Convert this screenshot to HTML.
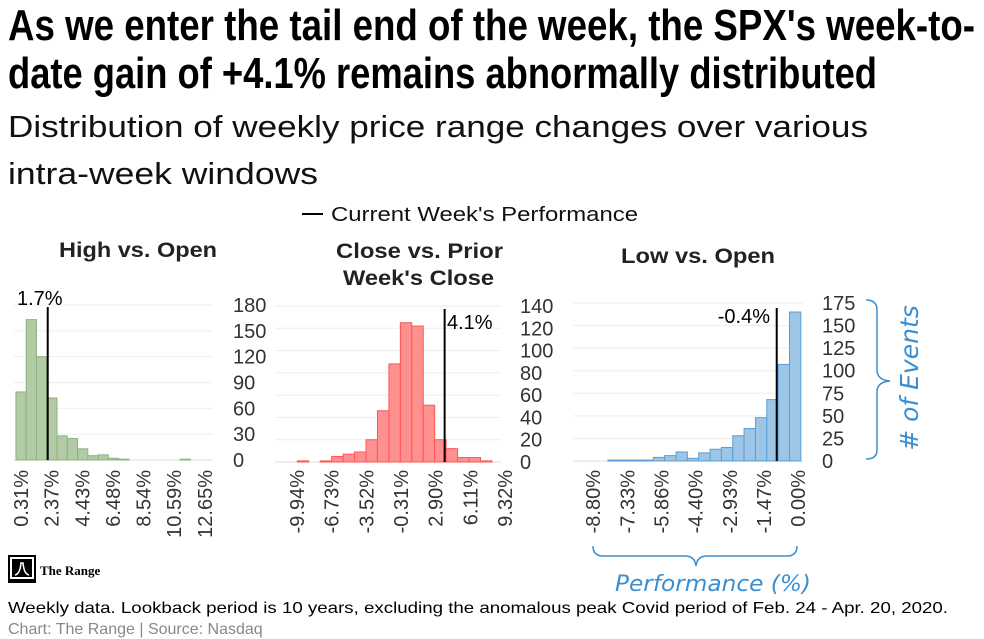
<!DOCTYPE html>
<html><head><meta charset="utf-8"><style>
html,body{margin:0;padding:0;background:#fff;}
svg{display:block;font-family:"Liberation Sans",sans-serif;}
</style></head><body>
<svg id="chart" width="984" height="639" viewBox="0 0 984 639">
<text x="8" y="40" font-size="44" font-weight="bold" textLength="967" lengthAdjust="spacingAndGlyphs">As we enter the tail end of the week, the SPX's week-to-</text>
<text x="8" y="88" font-size="44" font-weight="bold" textLength="869" lengthAdjust="spacingAndGlyphs">date gain of +4.1% remains abnormally distributed</text>
<text x="8" y="137" font-size="31" fill="#111" textLength="860" lengthAdjust="spacingAndGlyphs">Distribution of weekly price range changes over various</text>
<text x="8" y="184" font-size="31" fill="#111" textLength="310" lengthAdjust="spacingAndGlyphs">intra-week windows</text>
<g>
<line x1="302" y1="214" x2="323" y2="214" stroke="#000" stroke-width="2"/>
<text x="331" y="221" font-size="20" fill="#111" textLength="307" lengthAdjust="spacingAndGlyphs">Current Week's Performance</text>
</g>
<text x="59" y="257" font-size="21" font-weight="bold" fill="#222" textLength="158" lengthAdjust="spacingAndGlyphs">High vs. Open</text>
<text x="336" y="258" font-size="21" font-weight="bold" fill="#222" textLength="167" lengthAdjust="spacingAndGlyphs">Close vs. Prior</text>
<text x="343" y="285" font-size="21" font-weight="bold" fill="#222" textLength="151" lengthAdjust="spacingAndGlyphs">Week's Close</text>
<text x="621" y="263" font-size="21" font-weight="bold" fill="#222" textLength="154" lengthAdjust="spacingAndGlyphs">Low vs. Open</text>
<g id="panels"></g>
<g>
<path d="M866,300 Q877,300 877,310 L877,370 Q877,380 890,381 Q877,382 877,392 L877,450 Q877,459 866,459" fill="none" stroke="#3b8fd0" stroke-width="1.5"/>
<text transform="translate(918,378) rotate(-90)" font-size="25" font-style="italic" fill="#3b8fd0" text-anchor="middle" font-family="'DejaVu Sans',sans-serif"># of Events</text>
</g>
<g>
<path d="M593,546 Q593,556 603,556 L685,556 Q695,556 696,566 Q697,556 707,556 L787,556 Q797,556 797,546" fill="none" stroke="#3b8fd0" stroke-width="1.5"/>
<text x="713" y="591" font-size="22" font-style="italic" fill="#3b8fd0" text-anchor="middle" font-family="'DejaVu Sans',sans-serif" textLength="196" lengthAdjust="spacingAndGlyphs">Performance (%)</text>
</g>
<g>
<rect x="8" y="555" width="28" height="28" fill="#000"/>
<rect x="10" y="557" width="24" height="22" fill="#fff"/>
<rect x="12" y="559" width="20" height="18" fill="#000"/>
<path d="M15,575 Q20,574 21,563 L23,563 Q24,574 29,575" fill="none" stroke="#fff" stroke-width="1.5"/>
<text x="40" y="575" font-size="13" font-weight="bold" font-family="'Liberation Serif',serif">The Range</text>
</g>
<text x="8" y="613" font-size="16" fill="#000" textLength="940" lengthAdjust="spacingAndGlyphs">Weekly data. Lookback period is 10 years, excluding the anomalous peak Covid period of Feb. 24 - Apr. 20, 2020.</text>
<text x="8" y="634" font-size="16" fill="#888">Chart: The Range | Source: Nasdaq</text>
</svg>
<script>
// Data
const highCounts = [79,163,120,72,28,25,13,5,6,2,1,0,0,0,0,0,1,0,0];
const closeCounts = [0,0,1,0,1,5,7,9,20,46,88,125,122,51,20,12,4,4,1];
const lowCounts = [0,0,0,1,1,1,1,4,6,10,3,9,13,15,28,36,48,68,107,165];
const highTicks = ["0.31%","2.37%","4.43%","6.48%","8.54%","10.59%","12.65%"];
const highTickVals = [0.31,2.37,4.43,6.48,8.54,10.59,12.65];
const closeTicks = ["-9.94%","-6.73%","-3.52%","-0.31%","2.90%","6.11%","9.32%"];
const closeTickVals = [-9.94,-6.73,-3.52,-0.31,2.90,6.11,9.32];
const lowTicks = ["-8.80%","-7.33%","-5.86%","-4.40%","-2.93%","-1.47%","0.00%"];
const lowTickVals = [-8.80,-7.33,-5.86,-4.40,-2.93,-1.47,0.00];
const highYTicks = [0,30,60,90,120,150,180];
const closeYTicks = [0,20,40,60,80,100,120,140];
const lowYTicks = [0,25,50,75,100,125,150,175];
const currentValues = [1.7, 4.1, -0.4];
const currentLabels = ["1.7%","4.1%","-0.4%"];

const NS="http://www.w3.org/2000/svg";
const root=document.getElementById('panels');
function mk(tag,attrs,parent){const e=document.createElementNS(NS,tag);for(const k in attrs)e.setAttribute(k,attrs[k]);(parent||root).appendChild(e);return e;}

const panels=[
 {name:'high',counts:highCounts,ticks:highTicks,tickVals:highTickVals,yTicks:highYTicks,
  px0:21,v0:0.31,pxPer:14.9,binStart:-0.03,binW:0.689,plotL:14,plotR:212,yTop:305,yBot:460,
  fill:'#b2cba6',stroke:'#8db27e',axisX:233,cur:currentValues[0],curLabel:currentLabels[0],lineOff:6,lineTop:307,labelX:17,labelY:305,labelAnchor:'start'},
 {name:'close',counts:closeCounts,ticks:closeTicks,tickVals:closeTickVals,yTicks:closeYTicks,
  px0:297,v0:-9.94,pxPer:10.8,binStart:-12.03,binW:1.06,plotL:275,plotR:501,yTop:306,yBot:462,
  fill:'#ff9090',stroke:'#ff5656',axisX:520,cur:currentValues[1],curLabel:currentLabels[1],lineOff:-4,lineTop:309,labelX:447,labelY:329,labelAnchor:'start'},
 {name:'low',counts:lowCounts,ticks:lowTicks,tickVals:lowTickVals,yTicks:lowYTicks,
  px0:593,v0:-8.80,pxPer:23.3,binStart:-9.62,binW:0.487,plotL:573,plotR:803,yTop:303,yBot:461,
  fill:'#9cc5e7',stroke:'#5d9fd4',axisX:822,cur:currentValues[2],curLabel:currentLabels[2],lineOff:-12,lineTop:308,labelX:770,labelY:323,labelAnchor:'end'}
];

panels.forEach(p=>{
  const g=mk('g',{});
  
  
  const xs=v=>p.px0+(v-p.v0)*p.pxPer;
  const ymax=p.yTicks[p.yTicks.length-1];
  const ys=v=>p.yBot-(v/ymax)*(p.yBot-p.yTop);
  p.yTicks.forEach(t=>{
    const l=mk('line',{x1:p.plotL,x2:p.plotR,y1:ys(t),y2:ys(t),stroke:t===0?'#ddd':'#eee','stroke-width':1},g);
    
    
    const tx=mk('text',{x:p.axisX,y:ys(t)+7,'font-size':20,fill:'#333'},g);
    tx.textContent=t;
    
    
  });
  p.counts.forEach((c,i)=>{
    if(c<=0)return;
    const x0=xs(p.binStart+i*p.binW), x1=xs(p.binStart+(i+1)*p.binW);
    const r=mk('rect',{x:x0,y:ys(c),width:x1-x0,height:ys(0)-ys(c),fill:p.fill,stroke:p.stroke,'stroke-width':1},g);
    
    
  });
  p.ticks.forEach((t,i)=>{
    const x=xs(p.tickVals[i])+7;
    const tx=mk('text',{transform:`translate(${x},470) rotate(-90)`,'font-size':20,fill:'#333','text-anchor':'end'},g);
    tx.textContent=t;
    
    
  });
  const cx=xs(p.cur)+p.lineOff;
  const cl=mk('line',{x1:cx,x2:cx,y1:p.lineTop,y2:p.yBot,stroke:'#000','stroke-width':2},g);
  
  
  const ct=mk('text',{x:p.labelX,y:p.labelY,'font-size':20,fill:'#000','text-anchor':p.labelAnchor},g);
  ct.textContent=p.curLabel;
  
  
});
</script>
</body></html>
